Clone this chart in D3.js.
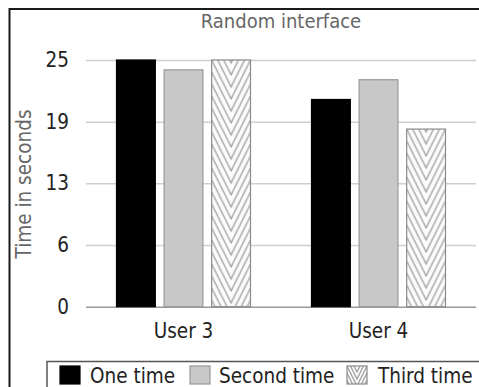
<!DOCTYPE html>
<html>
<head>
<meta charset="utf-8">
<script src="https://cdn.jsdelivr.net/npm/d3@7"></script>
<style>
  html, body { margin: 0; padding: 0; background: #fff; }
  svg { display: block; }
  text { font-family: "DejaVu Sans Condensed", "DejaVu Sans", sans-serif; }
</style>
</head>
<body>
<svg id="chart" width="479" height="387"></svg>
<script>
// Chart data
const users = ["User 3", "User 4"];
const seriesNames = ["One time", "Second time", "Third time"];
const oneTime = [25, 21];
const secondTime = [24, 23];
const thirdTime = [25, 18];
const tickValues = [0, 6.25, 12.5, 18.75, 25];
const tickLabels = ["0", "6", "13", "19", "25"];
const titleText = "Random interface";
const yTitle = "Time in seconds";

const values = [oneTime, secondTime, thirdTime];
const rows = [];
users.forEach((u, i) => seriesNames.forEach((s, j) => rows.push({ user: u, series: s, value: values[j][i] })));

const svg = d3.select("#chart");
const defs = svg.append("defs");

const plot = { left: 86, right: 476, top: 60, bottom: 306.7 };

const x0 = d3.scaleBand().domain(users).range([plot.left, plot.right]).padding(0);
const groupWidth = 134;
const x1 = d3.scaleBand().domain(seriesNames).range([-groupWidth / 2, groupWidth / 2]).paddingInner(0.184).paddingOuter(0);
const y = d3.scaleLinear().domain([0, 25]).range([plot.bottom, plot.top]);

// Chevron fill for the third series
function chevronPattern(id, px, py, w, period) {
  const p = defs.append("pattern")
    .attr("id", id)
    .attr("patternUnits", "userSpaceOnUse")
    .attr("x", px).attr("y", py)
    .attr("width", w).attr("height", period);
  p.append("rect").attr("width", w).attr("height", period).attr("fill", "#fbfbfb");
  const drop = w; // slope 2 : 1
  const n = Math.ceil(drop / period) + 1;
  for (let j = -n; j <= 2; j++) {
    const y0 = j * period;
    p.append("path")
      .attr("d", `M0,${y0}L${w / 2},${y0 + drop}L${w},${y0}`)
      .attr("fill", "none")
      .attr("stroke", "#9a9a9a")
      .attr("stroke-width", 1.2);
  }
  return `url(#${id})`;
}

// Outer frame
svg.append("path")
  .attr("d", "M9.5,400V9H485")
  .attr("fill", "none")
  .attr("stroke", "#1a1a1a")
  .attr("stroke-width", 2);

// Title
svg.append("text")
  .attr("x", (plot.left + plot.right) / 2)
  .attr("y", 28)
  .attr("text-anchor", "middle")
  .attr("fill", "#666")
  .attr("font-size", 20)
  .text(titleText);

// Gridlines and y tick labels
const yAxis = d3.axisLeft(y)
  .tickValues(tickValues)
  .tickFormat((d, i) => tickLabels[i])
  .tickSize(-(plot.right - plot.left))
  .tickPadding(17);

const gy = svg.append("g")
  .attr("transform", `translate(${plot.left},0)`)
  .call(yAxis);
gy.select(".domain").remove();
gy.selectAll(".tick line")
  .attr("stroke", (d) => d === 0 ? "#999" : "#cfcfcf")
  .attr("stroke-width", 1.5);
gy.selectAll(".tick text")
  .attr("fill", "#222")
  .attr("font-size", 20.5)
  .attr("font-family", "DejaVu Sans Condensed, DejaVu Sans, sans-serif");

// Y axis title
svg.append("text")
  .attr("transform", `translate(31,184) rotate(-90)`)
  .attr("text-anchor", "middle")
  .attr("fill", "#666")
  .attr("font-size", 20.5)
  .text(yTitle);

// Bars
const fills = { "One time": "#000", "Second time": "#c8c8c8" };
const strokes = { "One time": "#000", "Second time": "#999", "Third time": "#8a8a8a" };

svg.append("g").selectAll("rect")
  .data(rows)
  .join("rect")
  .attr("x", (d) => x0(d.user) + x0.bandwidth() / 2 + x1(d.series))
  .attr("y", (d) => y(d.value))
  .attr("width", x1.bandwidth())
  .attr("height", (d) => y(0) - y(d.value))
  .attr("stroke", (d) => strokes[d.series])
  .attr("stroke-width", 1.2)
  .attr("fill", (d, i) => {
    if (d.series !== "Third time") return fills[d.series];
    const bx = x0(d.user) + x0.bandwidth() / 2 + x1(d.series);
    return chevronPattern("chev" + i, bx, y(d.value), x1.bandwidth(), 12);
  });

// X labels
const xAxis = d3.axisBottom(x0).tickSize(0).tickPadding(17);
const gx = svg.append("g")
  .attr("transform", `translate(0,${plot.bottom})`)
  .call(xAxis);
gx.select(".domain").remove();
gx.selectAll(".tick text")
  .attr("fill", "#222")
  .attr("font-size", 20.5)
  .attr("font-family", "DejaVu Sans Condensed, DejaVu Sans, sans-serif");

// Legend
const legend = svg.append("g");
legend.append("rect")
  .attr("x", 47).attr("y", 361.5)
  .attr("width", 450).attr("height", 40)
  .attr("fill", "#fff")
  .attr("stroke", "#555")
  .attr("stroke-width", 1.5);

const legendX = [60, 190, 347];
const textX = [90, 219, 378];
seriesNames.forEach((s, i) => {
  const fill = s === "Third time"
    ? chevronPattern("chevLegend", legendX[i], 366, 20, 7)
    : fills[s];
  legend.append("rect")
    .attr("x", legendX[i]).attr("y", 366)
    .attr("width", 20).attr("height", 18)
    .attr("fill", fill)
    .attr("stroke", strokes[s])
    .attr("stroke-width", 1.2);
  legend.append("text")
    .attr("x", textX[i]).attr("y", 383)
    .attr("fill", "#222")
    .attr("font-size", 20.5)
    .text(s);
});
</script>
</body>
</html>
